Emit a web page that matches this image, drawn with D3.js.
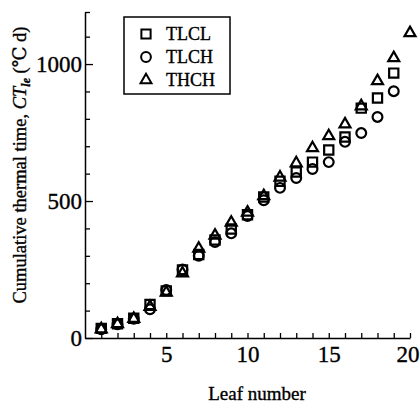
<!DOCTYPE html>
<html>
<head>
<meta charset="utf-8">
<script src="https://cdn.jsdelivr.net/npm/d3@7"></script>
<style>
  body { margin: 0; background: #fff; }
  text { font-family: 'Liberation Serif', 'DejaVu Serif', serif; fill: #000; stroke: #000; stroke-width: 0.35px; }
</style>
</head>
<body>
<div id="chart"></div>
<script>
'use strict'

// leaf number 1..20
var leaves = [1, 2, 3, 4, 5, 6, 7, 8, 9, 10, 11, 12, 13, 14, 15, 16, 17, 18, 19, 20]
// cumulative thermal time (°C d)
var tlcl = [35, 52, 72, 122, 172, 248, 305, 358, 398, 450, 515, 572, 606, 642, 686, 734, 839, 876, 967]
var tlch = [32, 50, 70, 105, 175, 250, 300, 350, 382, 445, 503, 548, 584, 617, 642, 716, 748, 807, 901]
var thch = [36, 55, 74, 118, 170, 240, 330, 378, 425, 462, 522, 590, 642, 697, 741, 784, 850, 942, 1026, 1117]

var seriesNames = ['TLCL', 'TLCH', 'THCH']
var seriesShapes = ['square', 'circle', 'triangle']
var xTicks = [5, 10, 15, 20]
var yLabels = [0, 500, 1000]

var width = 420
var height = 403

var svg = d3.select('#chart')
  .append('svg')
  .attr('width', width)
  .attr('height', height)

var x = d3.scaleLinear().domain([0, 20]).range([85, 410])
var y = d3.scaleLinear().domain([0, 1190]).range([338, 12])

// y axis: inward ticks every 100, long at labelled values
var yAxis = d3.axisLeft(y)
  .tickValues(d3.range(0, 1200, 100).concat([1190]))
  .tickSizeInner(-5)
  .tickSizeOuter(0)
  .tickPadding(3)
  .tickFormat(function(d) { return yLabels.indexOf(d) >= 0 ? d : '' })

var gy = svg.append('g')
  .attr('transform', 'translate(' + x(0) + ',0)')
  .call(yAxis)
gy.selectAll('.tick line')
  .attr('x2', function(d) { return yLabels.indexOf(d) >= 0 ? 8 : 5 })
  .attr('stroke', '#000')
  .attr('stroke-width', 1.3)
gy.select('.domain').attr('stroke', '#000').attr('stroke-width', 1.5)
gy.selectAll('text')
  .attr('font-size', '23px')
  .attr('font-family', "'Liberation Serif', serif")

// x axis: inward ticks every leaf
var xAxis = d3.axisBottom(x)
  .tickValues(d3.range(1, 21))
  .tickSizeInner(-5)
  .tickSizeOuter(0)
  .tickPadding(8)
  .tickFormat(function(d) { return xTicks.indexOf(d) >= 0 ? d : '' })

var gx = svg.append('g')
  .attr('transform', 'translate(0,' + y(0) + ')')
  .call(xAxis)
gx.selectAll('.tick line').attr('stroke', '#000').attr('stroke-width', 1.3)
gx.select('.domain').attr('stroke', '#000').attr('stroke-width', 1.5)
gx.selectAll('text')
  .attr('font-size', '23px')
  .attr('font-family', "'Liberation Serif', serif")
  .attr('text-anchor', function(d) { return d === 20 ? 'end' : 'middle' })
  .attr('dx', function(d) { return d === 20 ? 9 : 0 })

// axis titles
svg.append('text')
  .attr('x', 257)
  .attr('y', 400)
  .attr('text-anchor', 'middle')
  .attr('font-size', '19px')
  .text('Leaf number')

var ylab = svg.append('text')
  .attr('transform', 'translate(26,165) rotate(-90)')
  .attr('text-anchor', 'middle')
  .attr('font-size', '18.5px')
ylab.append('tspan').text('Cumulative thermal time, ')
ylab.append('tspan').attr('font-style', 'italic').text('CT')
ylab.append('tspan').attr('font-style', 'italic').attr('font-weight', 'bold')
  .attr('font-size', '12px').attr('dy', 4).text('le')
ylab.append('tspan').attr('dy', -4).text(' (\u2103 d)')

// markers
var symbolTypes = {
  square: d3.symbolSquare,
  circle: d3.symbolCircle,
  triangle: d3.symbolTriangle
}
var symbolSizes = { square: 85, circle: 75, triangle: 52 }

function drawSeries(values, shape) {
  var sym = d3.symbol().type(symbolTypes[shape]).size(symbolSizes[shape])
  svg.append('g')
    .selectAll('path')
    .data(values)
    .enter()
    .append('path')
    .attr('d', sym)
    .attr('transform', function(d, i) {
      var dy = shape === 'triangle' ? 1 : 0
      return 'translate(' + x(leaves[i]) + ',' + (y(d) + dy) + ')'
    })
    .attr('fill', 'none')
    .attr('stroke', '#000')
    .attr('stroke-width', 2.2)
}

drawSeries(tlcl, 'square')
drawSeries(tlch, 'circle')
drawSeries(thch, 'triangle')

// legend
var legend = svg.append('g')
legend.append('rect')
  .attr('x', 124)
  .attr('y', 17)
  .attr('width', 106)
  .attr('height', 77)
  .attr('fill', 'none')
  .attr('stroke', '#000')
  .attr('stroke-width', 1.5)

var item = legend.selectAll('.item')
  .data(seriesNames)
  .enter()
  .append('g')
  .attr('class', 'item')
  .attr('transform', function(d, i) { return 'translate(146,' + (34 + i * 23) + ')' })

item.append('path')
  .attr('d', function(d, i) {
    var shape = seriesShapes[i]
    return d3.symbol().type(symbolTypes[shape]).size(symbolSizes[shape])()
  })
  .attr('fill', 'none')
  .attr('stroke', '#000')
  .attr('stroke-width', 2)

item.append('text')
  .attr('x', 20)
  .attr('y', 6)
  .attr('font-size', '18px')
  .text(function(d) { return d })
</script>
</body>
</html>
